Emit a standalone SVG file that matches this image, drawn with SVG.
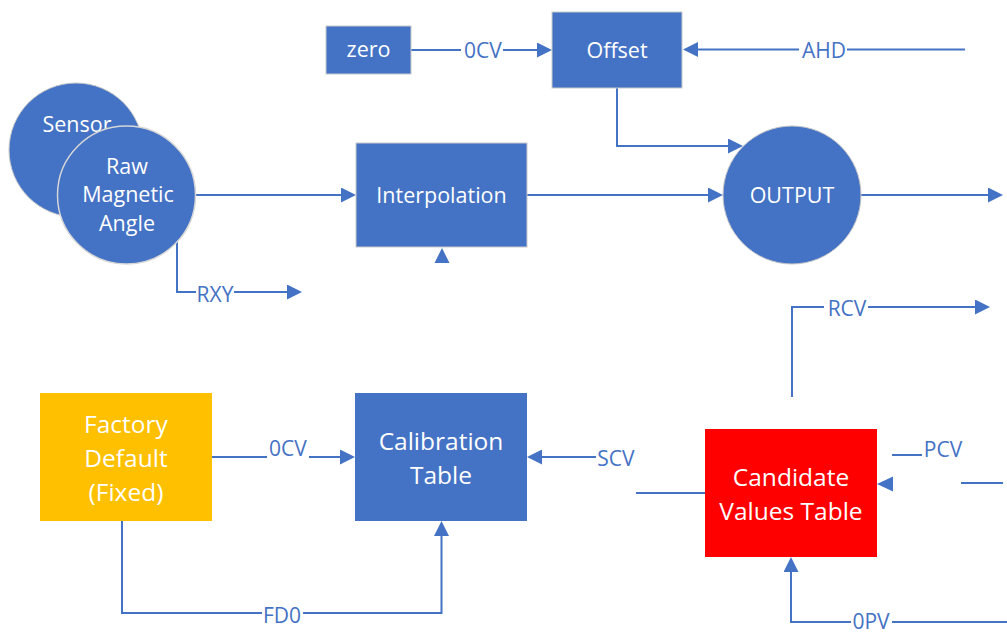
<svg xmlns="http://www.w3.org/2000/svg" width="1007" height="633" viewBox="0 0 1007 633">
<style>
.ln{fill:none;stroke:#4472C4;stroke-width:2}
.blue{fill:#4472C4;stroke:#c9c9c9;stroke-width:1}
.nt{font-family:"Open Sans","Liberation Sans",sans-serif;font-size:21.5px;fill:#ffffff;text-anchor:middle}
.nt2{font-family:"Open Sans","Liberation Sans",sans-serif;font-size:24.5px;fill:#ffffff;text-anchor:middle}
.lb{font-family:"Open Sans","Liberation Sans",sans-serif;font-size:21px;fill:#4472C4;text-anchor:middle}
.ah{fill:#4472C4}
</style>
<defs>
<marker id="arr" markerUnits="userSpaceOnUse" markerWidth="15" markerHeight="15" refX="0" refY="7.5" orient="auto">
<path d="M0,0 L15,7.5 L0,15 z" fill="#4472C4"/>
</marker>
</defs>
<rect width="1007" height="633" fill="#ffffff"/>

<g id="connectors">
<line class="ln" x1="411" y1="50" x2="461" y2="50"/>
<line class="ln" x1="503" y1="50" x2="537" y2="50" marker-end="url(#arr)"/>
<text class="lb" x="483" y="58">0CV</text>

<line class="ln" x1="965" y1="49.5" x2="847" y2="49.5"/>
<line class="ln" x1="799" y1="49.5" x2="698" y2="49.5" marker-end="url(#arr)"/>
<text class="lb" x="824" y="58">AHD</text>

<polyline class="ln" points="617,88 617,146 728,146" marker-end="url(#arr)"/>
<line class="ln" x1="196" y1="195" x2="341" y2="195" marker-end="url(#arr)"/>
<line class="ln" x1="527" y1="195" x2="708" y2="195" marker-end="url(#arr)"/>
<line class="ln" x1="861" y1="195" x2="988" y2="195" marker-end="url(#arr)"/>

<polyline class="ln" points="177,242 177,292 196,292"/>
<line class="ln" x1="234" y1="292" x2="287" y2="292" marker-end="url(#arr)"/>
<text class="lb" x="215" y="302">RXY</text>

<polygon class="ah" points="442,248 449.5,263 434.5,263"/>

<polyline class="ln" points="792,397 792,307 824,307"/>
<line class="ln" x1="868" y1="307" x2="975" y2="307" marker-end="url(#arr)"/>
<text class="lb" x="847" y="316">RCV</text>

<line class="ln" x1="212" y1="457" x2="267" y2="457"/>
<line class="ln" x1="309" y1="457" x2="340" y2="457" marker-end="url(#arr)"/>
<text class="lb" x="288" y="456">0CV</text>

<polyline class="ln" points="122,521 122,613 262,613"/>
<polyline class="ln" points="303,613 441.5,613 441.5,536" marker-end="url(#arr)"/>
<text class="lb" x="282" y="623">FD0</text>

<line class="ln" x1="596" y1="457" x2="542" y2="457" marker-end="url(#arr)"/>
<text class="lb" x="616" y="466">SCV</text>

<line class="ln" x1="636" y1="493" x2="705" y2="493"/>

<line class="ln" x1="892" y1="455" x2="922" y2="455"/>
<text class="lb" x="943" y="457">PCV</text>
<polygon class="ah" points="877,484 893,476.5 893,491.5"/>
<line class="ln" x1="961" y1="483" x2="1003" y2="483"/>

<line class="ln" x1="1007" y1="622" x2="892" y2="622"/>
<polyline class="ln" points="851,622 791,622 791,572" marker-end="url(#arr)"/>
<text class="lb" x="871" y="629">0PV</text>
</g>

<g id="zero">
<rect class="blue" x="326" y="26" width="85" height="48"/>
<text class="nt" x="368.5" y="57">zero</text>
</g>
<g id="offset">
<rect class="blue" x="552" y="12" width="130" height="76"/>
<text class="nt" x="617" y="57.5">Offset</text>
</g>
<g id="sensor">
<circle class="blue" cx="76" cy="150" r="67"/>
<text class="nt" x="77" y="132">Sensor</text>
</g>
<g id="raw-magnetic-angle">
<circle cx="126.5" cy="195" r="69" fill="#4472C4" stroke="#d6d6d6" stroke-width="1.5"/>
<text class="nt" x="127" y="174">Raw</text>
<text class="nt" x="128" y="202">Magnetic</text>
<text class="nt" x="127" y="231">Angle</text>
</g>
<g id="interpolation">
<rect class="blue" x="356" y="143" width="171" height="104"/>
<text class="nt" x="441.5" y="203">Interpolation</text>
</g>
<g id="output">
<circle class="blue" cx="792" cy="195" r="69"/>
<text class="nt" x="792" y="203">OUTPUT</text>
</g>
<g id="factory-default">
<rect x="40" y="393" width="172" height="128" fill="#FFC000"/>
<text class="nt2" x="126" y="433">Factory</text>
<text class="nt2" x="126" y="467">Default</text>
<text class="nt2" x="126" y="501">(Fixed)</text>
</g>
<g id="calibration-table">
<rect x="355" y="393" width="172" height="128" fill="#4472C4"/>
<text class="nt2" x="441" y="450">Calibration</text>
<text class="nt2" x="441" y="484">Table</text>
</g>
<g id="candidate-values-table">
<rect x="705" y="429" width="172" height="128" fill="#FF0000"/>
<text class="nt2" x="791" y="486">Candidate</text>
<text class="nt2" x="791" y="520">Values Table</text>
</g>
</svg>
